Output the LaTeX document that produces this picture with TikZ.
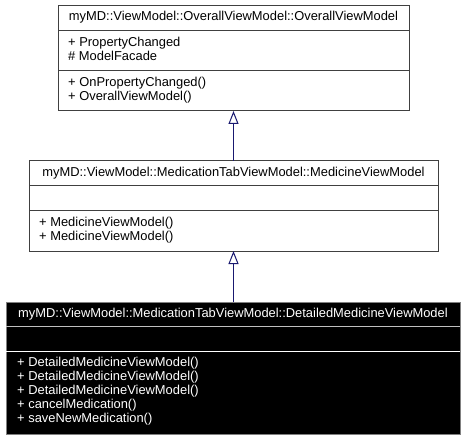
\documentclass[tikz,border=0pt]{standalone}
\usepackage{fontspec}
\setmainfont{Liberation Sans}
\usetikzlibrary{arrows.meta}
\definecolor{edgeblue}{HTML}{191970}
\definecolor{boxline}{HTML}{404040}
\tikzset{
  classbox/.style={draw=boxline, line width=1bp, inner sep=0pt, outer sep=0pt, anchor=north west},
  darkbox/.style={classbox, fill=black, draw=gray},
  txt/.style={anchor=base west, inner sep=0pt, font=\fontsize{12.95}{14}\selectfont},
  ttl/.style={anchor=base, inner sep=0pt, font=\fontsize{12.95}{14}\selectfont},
  sepline/.style={draw=boxline, line width=1bp},
  inherit/.style={draw=edgeblue, line width=1bp, -{Triangle[open, length=13bp, width=10bp, fill=white]}}
}
\begin{document}
\begin{tikzpicture}[x=1bp,y=-1bp]
\useasboundingbox (0,0) rectangle (467,441);
% Box 1
\node[classbox, minimum width=351bp, minimum height=105.5bp] (b1) at (58,5.5) {};
\coordinate (b1s1l) at (58,31); \coordinate (b1s1r) at (409,31);
\coordinate (b1s2l) at (58,71); \coordinate (b1s2r) at (409,71);
\draw[sepline] (b1s1l) -- (b1s1r);
\draw[sepline] (b1s2l) -- (b1s2r);
\node[ttl] (b1t) at (233.5,21) {myMD::ViewModel::OverallViewModel::OverallViewModel};
\node[txt] (b1a1) at (68,46.5) {+ PropertyChanged};
\node[txt] (b1a2) at (68,60.5) {\# ModelFacade};
\node[txt] (b1m1) at (68,86.5) {+ OnPropertyChanged()};
\node[txt] (b1m2) at (68,100.5) {+ OverallViewModel()};
% Box 2
\node[classbox, minimum width=409bp, minimum height=90bp] (b2) at (29,161) {};
\coordinate (b2s1l) at (29,186); \coordinate (b2s1r) at (438,186);
\coordinate (b2s2l) at (29,211); \coordinate (b2s2r) at (438,211);
\draw[sepline] (b2s1l) -- (b2s1r);
\draw[sepline] (b2s2l) -- (b2s2r);
\node[ttl] (b2t) at (233.5,176.5) {myMD::ViewModel::MedicationTabViewModel::MedicineViewModel};
\node[txt] (b2m1) at (39,226.5) {+ MedicineViewModel()};
\node[txt] (b2m2) at (39,240.5) {+ MedicineViewModel()};
% Box 3
\node[darkbox, minimum width=454bp, minimum height=132bp] (b3) at (6,302) {};
\coordinate (b3s1l) at (6,326); \coordinate (b3s1r) at (460,326);
\coordinate (b3s2l) at (6,351); \coordinate (b3s2r) at (460,351);
\draw[line width=1bp, draw=lightgray] (b3s1l) -- (b3s1r);
\draw[line width=1bp, draw=white] (b3s2l) -- (b3s2r);
\node[ttl, text=white] (b3t) at (233,317.5) {myMD::ViewModel::MedicationTabViewModel::DetailedMedicineViewModel};
\node[txt, text=white] (b3m1) at (17,366.5) {+ DetailedMedicineViewModel()};
\node[txt, text=white] (b3m2) at (17,380.5) {+ DetailedMedicineViewModel()};
\node[txt, text=white] (b3m3) at (17,394.5) {+ DetailedMedicineViewModel()};
\node[txt, text=white] (b3m4) at (17,408.5) {+ cancelMedication()};
\node[txt, text=white] (b3m5) at (17,422.5) {+ saveNewMedication()};
% Inheritance arrows
\draw[inherit] (b3.north -| b1.south) -- (b2.south -| b1.south);
\draw[inherit] (b2.north -| b1.south) -- (b1.south);
\end{tikzpicture}
\end{document}
